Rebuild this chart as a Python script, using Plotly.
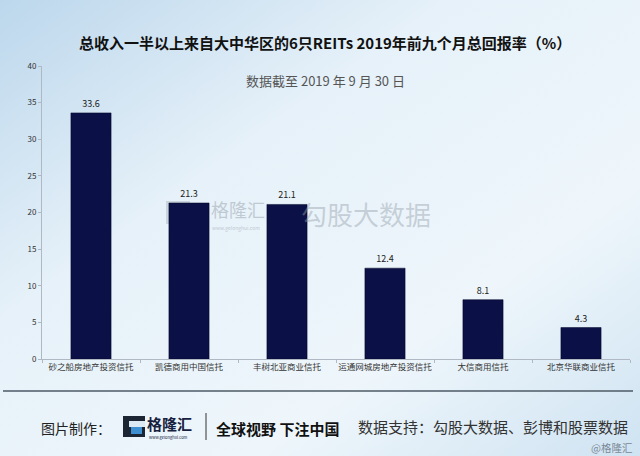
import plotly.graph_objects as go
import base64

categories = ["砂之船房地产投资信托", "凯德商用中国信托", "丰树北亚商业信托",
              "运通网城房地产投资信托", "大信商用信托", "北京华联商业信托"]
values = [33.6, 21.3, 21.1, 12.4, 8.1, 4.3]
value_labels = ["33.6", "21.3", "21.1", "12.4", "8.1", "4.3"]
y_ticks = [0, 5, 10, 15, 20, 25, 30, 35, 40]

title_text = "总收入一半以上来自大中华区的6只REITs 2019年前九个月总回报率（%）"
subtitle_text = "数据截至 2019 年 9 月 30 日"

FONT = "Noto Sans CJK SC"

svg = """<svg xmlns='http://www.w3.org/2000/svg' width='640' height='456'>
<defs><linearGradient id='g' x1='0' y1='0' x2='1' y2='1'>
<stop offset='0' stop-color='#bcd7ec'/><stop offset='0.35' stop-color='#e6f1f9'/>
<stop offset='0.7' stop-color='#eef6fb'/><stop offset='1' stop-color='#cfe3f2'/></linearGradient></defs>
<rect width='640' height='456' fill='url(#g)'/>
</svg>"""
bg_src = "data:image/svg+xml;base64," + base64.b64encode(svg.encode()).decode()

L, R, T, B = 42, 10, 66, 97
PW, PH = 640 - L - R, 456 - T - B

def px(x):
    return (x - L) / PW

def py(y):
    return (456 - B - y) / PH

fig = go.Figure()
fig.add_trace(go.Bar(
    x=categories, y=values, text=value_labels, textposition="outside",
    textfont=dict(size=9, color="#222222", family=FONT),
    marker=dict(color="#0b1046", line=dict(color="#05082a", width=0.5)),
    width=0.41, cliponaxis=False, hoverinfo="skip"))

fig.update_layout(
    width=640, height=456,
    margin=dict(l=L, r=R, t=T, b=B, autoexpand=False),
    paper_bgcolor="#e2eef8", plot_bgcolor="rgba(0,0,0,0)",
    showlegend=False,
    font=dict(family=FONT, color="#333333"),
    images=[dict(source=bg_src, xref="paper", yref="paper", x=px(0), y=py(0),
                 sizex=640 / PW, sizey=456 / PH, sizing="stretch", layer="below",
                 xanchor="left", yanchor="top")],
)
fig.update_xaxes(showline=True, linecolor="#b0b8c4", linewidth=1, ticks="outside",
                 ticklen=3, tickcolor="#b0b8c4", tickson="boundaries", tickangle=0,
                 automargin=False,
                 tickfont=dict(size=8.5, color="#333333", family=FONT), showgrid=False)
fig.update_yaxes(range=[0, 40], tickvals=y_ticks, showline=True, linecolor="#b0b8c4",
                 linewidth=1, ticks="outside", ticklen=3, tickcolor="#b0b8c4",
                 automargin=False,
                 tickfont=dict(size=8, color="#333333", family=FONT), showgrid=False,
                 zeroline=False)

ann = []

def txt(text, x, y, size, color, anchor="left", bold=False):
    t = f"<b>{text}</b>" if bold else text
    ann.append(dict(text=t, xref="paper", yref="paper", x=px(x), y=py(y),
                    showarrow=False, font=dict(size=size, color=color, family=FONT),
                    xanchor=anchor, yanchor="middle", borderpad=0))

txt(title_text, 325, 43, 15, "#111111", anchor="center", bold=True)
txt(subtitle_text, 325, 80, 13, "#555555", anchor="center")
# watermark
txt("格隆汇", 210, 209, 18, "rgba(150,160,170,0.5)")
txt("www.gelonghui.com", 211, 228, 5, "rgba(150,160,170,0.55)")
txt("勾股大数据", 300, 213, 26, "rgba(150,160,170,0.45)")
# footer
txt("图片制作：", 40, 428, 14, "#222222")
txt("格隆汇", 146, 423, 15, "#16213f", bold=True)
txt("www.gelonghui.com", 148, 437, 4, "#16213f")
txt("全球视野 下注中国", 215, 428, 15, "#111111", bold=True)
txt("数据支持：勾股大数据、彭博和股票数据", 357, 427, 15, "#333333")
txt("@格隆汇", 633, 447, 10.5, "#7a8896", anchor="right")
fig.update_layout(annotations=ann)

def rect(x0, x1, y0, y1, color, layer="above"):
    return dict(type="rect", xref="paper", yref="paper", x0=px(x0), x1=px(x1),
                y0=py(y0), y1=py(y1), line=dict(width=0), fillcolor=color, layer=layer)

shapes = [
    dict(type="line", xref="paper", yref="paper", x0=px(3), x1=px(633),
         y0=py(391), y1=py(391), line=dict(color="#4d5a66", width=1.5)),
    dict(type="line", xref="paper", yref="paper", x0=px(206), x1=px(206),
         y0=py(413), y1=py(440), line=dict(color="#333333", width=1)),
    # footer logo
    rect(123, 145, 416, 437, "#1c2534"),
    rect(129, 145, 421, 427, "#dbe9f4"),
    rect(131, 142, 427, 434, "#3d8fd1"),
    # watermark logo
    rect(166, 190, 201, 224, "rgba(150,160,170,0.35)", layer="below"),
]
fig.update_layout(shapes=shapes)

fig.write_html("out.html", config={"displayModeBar": False},
               post_script="document.body.style.margin='0';")
